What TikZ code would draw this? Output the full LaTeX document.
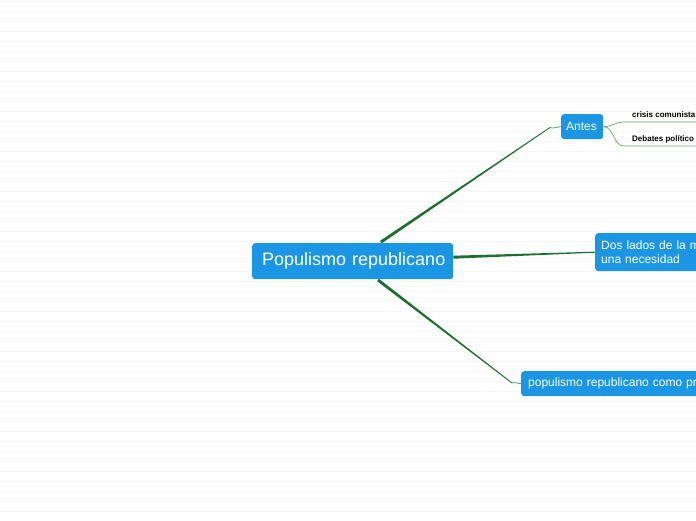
\documentclass[tikz,border=0pt]{standalone}
\usepackage{fontspec}
\setmainfont{Liberation Sans}
\usepackage{tikz}
\usetikzlibrary{arrows.meta, calc, positioning}
\usepackage{xcolor}
\definecolor{azul}{RGB}{27,150,229}
\definecolor{rama}{RGB}{30,110,48}
\definecolor{ramita}{RGB}{110,165,115}
\definecolor{raya}{RGB}{246,246,246}

\begin{document}
\begin{tikzpicture}[x=1pt, y=-1pt,
    tema/.style={fill=azul, text=white, rounded corners=3pt, anchor=north west,
        inner ysep=0pt, align=left},
    sub/.style={anchor=base west, inner sep=0pt, font=\fontsize{8}{10}\selectfont\bfseries}]
    % fondo rayado
    \useasboundingbox (0,0) rectangle (696,520);
    \clip (0,0) rectangle (696,520);
    \fill[white] (0,0) rectangle (696,520);
    \foreach \k in {0,...,51}
        \draw[raya, line width=1pt] (0,1+10*\k) -- (696,1+10*\k);

    % temas
    \node[tema, inner xsep=10pt, text width=181pt, minimum height=36,
        font=\fontsize{18}{20}\selectfont]
        (root) at (252,243) {\mbox{Populismo republicano}};
    \node[tema, inner xsep=5pt, text width=32pt, minimum height=25,
        font=\fontsize{12}{14}\selectfont]
        (antes) at (561,114) {\mbox{Antes}};
    \node[tema, inner xsep=6pt, text width=200pt, minimum height=38,
        font=\fontsize{12}{14}\selectfont]
        (dos) at (595,233) {Dos lados de la m\\una necesidad};
    \node[tema, inner xsep=7pt, text width=240pt, minimum height=25,
        font=\fontsize{12}{14}\selectfont]
        (pop) at (521,371) {populismo republicano como pr};

    % ramas principales (mas gruesas junto al centro)
    \coordinate (r1) at (381,242);
    \coordinate (k1) at (550,127.5);
    \coordinate (r2) at ($(root.east)+(0,-4)$);
    \coordinate (r3) at (378,280);
    \coordinate (k3) at (512,383);
    \fill[rama] ($(r1)!1.5pt!90:(k1)$) -- ($(k1)!0.4pt!-90:(r1)$)
        -- ($(k1)!0.4pt!90:(r1)$) -- ($(r1)!1.5pt!-90:(k1)$) -- cycle;
    \draw[rama!70, line width=0.8pt] (k1) to[out=-34, in=180, looseness=0.6] (antes.west);
    \fill[rama] ($(r2)!1.5pt!90:(dos.west)$) -- ($(dos.west)!0.5pt!-90:(r2)$)
        -- ($(dos.west)!0.5pt!90:(r2)$) -- ($(r2)!1.5pt!-90:(dos.west)$) -- cycle;
    \fill[rama] ($(r3)!1.5pt!90:(k3)$) -- ($(k3)!0.4pt!-90:(r3)$)
        -- ($(k3)!0.4pt!90:(r3)$) -- ($(r3)!1.5pt!-90:(k3)$) -- cycle;
    \draw[rama!70, line width=0.8pt] (k3) to[out=38, in=180, looseness=0.6] (pop.west);

    % subtemas de Antes
    \coordinate (s1) at (624,122);
    \coordinate (s2) at (624,146);
    \draw[ramita, line width=0.7pt] (antes.east) to[out=0, in=180] (s1) -- (696,122);
    \draw[ramita, line width=0.7pt] (antes.east) to[out=0, in=180] (s2) -- (696,146);
    \node[sub] (crisis) at (632,117.5) {crisis comunista};
    \node[sub] (debates) at (632,141.5) {Debates político};
\end{tikzpicture}
\end{document}
